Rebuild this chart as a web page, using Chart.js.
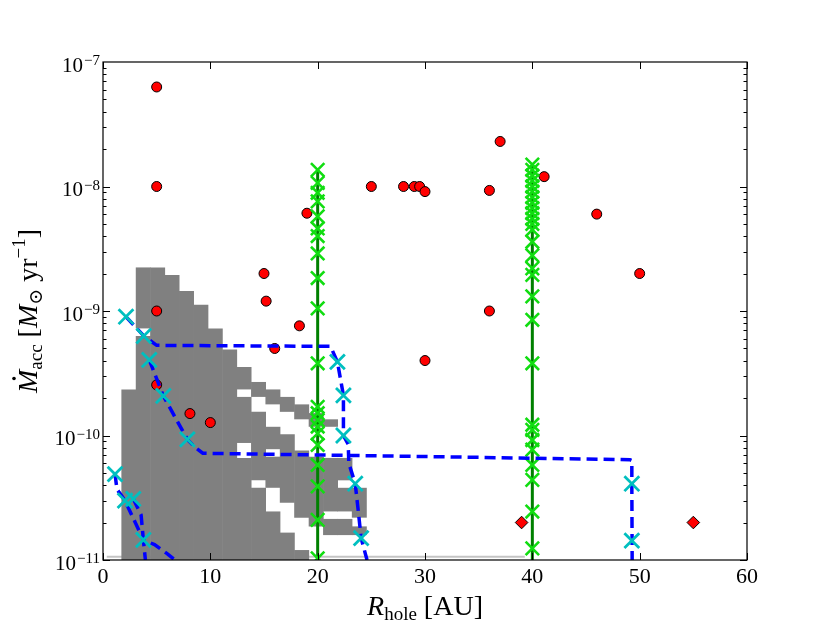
<!DOCTYPE html>
<html>
<head>
<meta charset="utf-8">
<script src="https://cdn.jsdelivr.net/npm/chart.js@4.4.1/dist/chart.umd.min.js"></script>
<style>
  html, body { margin: 0; padding: 0; background: #fff; }
</style>
</head>
<body>
<canvas id="chart" width="830" height="623" style="width:830px;height:623px"></canvas>
<script>
// observed transition discs: hole radius [AU] and accretion rate [Msun/yr]
var obsR    = [5, 5, 5, 5, 8.1, 10, 15, 15.2, 16, 18.3, 19, 25, 28, 29, 29.5, 30, 30, 36, 36, 37, 41.1, 46, 50];
var obsMdot = [6.3e-8, 1e-8, 1e-9, 2.55e-10, 1.5e-10, 1.27e-10, 2e-9, 1.2e-9, 5e-10, 7.6e-10, 6.1e-9,
               1e-8, 1e-8, 1e-8, 1e-8, 9.1e-9, 4e-10, 9.3e-9, 1e-9, 2.3e-8, 1.2e-8, 6e-9, 2e-9];

// upper limits (diamonds)
var limR    = [39, 55];
var limMdot = [2e-11, 2e-11];

// gray region: column centres [AU] and log10(Mdot) spans filled in each column
var cellR = [2.41, 3.75, 5.09, 6.43, 7.78, 9.12, 10.46, 11.80, 13.14, 14.49, 15.83, 17.17, 18.51, 19.86, 21.20, 22.54, 23.88];
var cellSpans = [
  [[-11, -9.63]],
  [[-11, -9.20], [-9.14, -8.65]],
  [[-11, -8.65]],
  [[-11, -8.71]],
  [[-11, -8.84]],
  [[-11, -8.95]],
  [[-11, -9.14]],
  [[-11, -9.31]],
  [[-11, -10.18], [-10.06, -9.69], [-9.63, -9.45]],
  [[-11, -10.42], [-10.36, -9.81], [-9.69, -9.57]],
  [[-11, -10.61], [-10.42, -10.17], [-10.11, -9.93], [-9.75, -9.63]],
  [[-11, -10.78], [-10.54, -9.99], [-9.81, -9.69]],
  [[-11, -10.92], [-10.66, -10.12], [-9.87, -9.75]],
  [[-10.73, -10.17], [-9.93, -9.82]],
  [[-10.80, -10.67], [-10.61, -10.18], [-9.93, -9.87]],
  [[-10.80, -10.67], [-10.61, -10.42], [-10.36, -10.18]],
  [[-10.80, -10.73], [-10.66, -10.42]]
];
var baseR    = [0.35, 39.3];
var baseMdot = [1.06e-11, 1.06e-11];

// photoevaporation tracks (blue dashed)
var trackAR    = [2.14, 3.8, 5.0, 21.2, 21.84, 22.4, 22.4, 22.85, 22.9, 23.5, 23.8, 24.05, 24.6];
var trackAMdot = [9.0e-10, 6.3e-10, 5.3e-10, 5.2e-10, 3.9e-10, 2.1e-10, 1.0e-10, 8.5e-11, 6.0e-11, 4.1e-11, 2.4e-11, 1.5e-11, 1.0e-11];
var trackBR    = [4.31, 5.62, 7.86, 8.6, 9.3, 49.1, 49.27, 49.27, 49.3];
var trackBMdot = [4.05e-10, 2.08e-10, 9.3e-11, 8.0e-11, 7.2e-11, 6.4e-11, 6.3e-11, 4.1e-11, 1.0e-11];
var trackCR    = [1.12, 1.3, 2.05, 3.76, 3.95];
var trackCMdot = [4.9e-11, 3.7e-11, 3.0e-11, 1.45e-11, 1.0e-11];
var trackDR    = [2.82, 3.55, 3.76, 4.8, 6.0, 6.7];
var trackDMdot = [3.1e-11, 2.3e-11, 1.45e-11, 1.33e-11, 1.12e-11, 1.0e-11];

// time markers on the tracks (cyan crosses)
var markR    = [2.14, 3.8, 21.84, 22.4, 22.4, 23.5, 24.05, 4.31, 5.62, 7.86, 49.27, 49.27, 1.12, 2.05, 2.82, 3.76];
var markMdot = [9.0e-10, 6.3e-10, 3.9e-10, 2.1e-10, 1.0e-10, 4.1e-11, 1.5e-11, 4.05e-10, 2.08e-10, 9.3e-11,
                4.1e-11, 1.43e-11, 4.9e-11, 3.0e-11, 3.1e-11, 1.45e-11];

// planet tracks at fixed hole radius (green)
var planet20Mdot = [1.36e-8, 1.07e-8, 8.9e-9, 7.6e-9, 5.75e-9, 4.6e-9, 4.0e-9, 2.9e-9, 1.84e-9, 1.05e-9, 3.8e-10,
                    1.7e-10, 1.51e-10, 1.33e-10, 1.18e-10, 1.04e-10, 8.4e-11, 5.8e-11, 3.9e-11, 2.1e-11, 1.03e-11];
var planet40Mdot = [1.5e-8, 1.36e-8, 1.22e-8, 1.11e-8, 1.0e-8, 9.1e-9, 8.2e-9, 7.4e-9, 6.7e-9, 6.1e-9, 5.5e-9,
                    5.0e-9, 4.5e-9, 3.6e-9, 2.8e-9, 2.2e-9, 1.95e-9, 1.31e-9, 8.5e-10, 3.8e-10, 1.22e-10,
                    1.11e-10, 9.2e-11, 7.7e-11, 5.8e-11, 4.4e-11, 2.45e-11, 1.24e-11];

// axes
var xTicks = [0, 10, 20, 30, 40, 50, 60];
var xTickLabels = ['0', '10', '20', '30', '40', '50', '60'];
var yDecades = [-11, -10, -9, -8, -7];
var yTickExps = ['\u221211', '\u221210', '\u22129', '\u22128', '\u22127'];

var SERIF = "'Liberation Serif', 'DejaVu Serif', serif";

function pairs(xs, ys) {
  return xs.map(function (x, i) { return { x: x, y: ys[i] }; });
}
function column(x, ys) {
  return ys.map(function (y) { return { x: x, y: y }; });
}
function grayLayer(j) {
  var pts = [];
  for (var i = 0; i < cellR.length; i++) {
    var s = cellSpans[i][j];
    if (s) pts.push({ x: cellR[i], y: [Math.pow(10, s[0]), Math.pow(10, s[1])] });
  }
  return pts;
}

var datasets = [];

// gray region, one bar layer per span index
for (var j = 0; j < 4; j++) {
  datasets.push({
    type: 'bar',
    data: grayLayer(j),
    backgroundColor: '#808080',
    borderWidth: 0,
    grouped: false,
    barPercentage: 1.04,
    categoryPercentage: 1,
    order: 5
  });
}
datasets.push({
  type: 'scatter', showLine: true, data: pairs(baseR, baseMdot),
  borderColor: '#c4c4c4', borderWidth: 2, pointRadius: 0, order: 6
});

// observations
datasets.push({
  type: 'scatter', data: pairs(obsR, obsMdot),
  pointStyle: 'circle', pointRadius: 5, backgroundColor: '#ff0000',
  borderColor: '#000', borderWidth: 1, order: 4
});
datasets.push({
  type: 'scatter', data: pairs(limR, limMdot),
  pointStyle: 'rectRot', pointRadius: 6.3, backgroundColor: '#ff0000',
  borderColor: '#000', borderWidth: 1, order: 4
});

// planet tracks
[[20, planet20Mdot], [40, planet40Mdot]].forEach(function (p) {
  datasets.push({
    type: 'scatter', showLine: true,
    data: [{ x: p[0], y: 1e-11 }, { x: p[0], y: p[1][0] }],
    borderColor: '#008000', borderWidth: 3, pointRadius: 0, order: 3
  });
  datasets.push({
    type: 'scatter', data: column(p[0], p[1]),
    pointStyle: 'crossRot', pointRadius: 9.5, borderColor: '#11dd11',
    borderWidth: 2.6, order: 2
  });
});

// photoevaporation tracks
[[trackAR, trackAMdot], [trackBR, trackBMdot], [trackCR, trackCMdot], [trackDR, trackDMdot]].forEach(function (t) {
  datasets.push({
    type: 'scatter', showLine: true, data: pairs(t[0], t[1]),
    borderColor: '#0000ff', borderWidth: 3.5, borderDash: [11, 6],
    pointRadius: 0, tension: 0, order: 1
  });
});
datasets.push({
  type: 'scatter', data: pairs(markR, markMdot),
  pointStyle: 'crossRot', pointRadius: 10.5, borderColor: '#00bfbf',
  borderWidth: 2.8, order: 0
});

datasets.forEach(function (d) { d.clip = 0; });

function drawPieces(ctx, pieces) {
  var total = 0;
  pieces.forEach(function (p) {
    ctx.font = p.font;
    p.w = ctx.measureText(p.text).width;
    total += p.w;
  });
  var x = -total / 2;
  pieces.forEach(function (p) {
    ctx.font = p.font;
    ctx.fillText(p.text, x, p.dy);
    p.x = x;
    x += p.w;
  });
  return pieces;
}

var axesPlugin = {
  id: 'axesPlugin',
  afterDraw: function (chart) {
    var ctx = chart.ctx, a = chart.chartArea;
    var xs = chart.scales.x, ys = chart.scales.y;
    ctx.save();

    // frame and inward ticks
    ctx.strokeStyle = '#000';
    ctx.lineWidth = 1;
    ctx.beginPath();
    xTicks.forEach(function (v) {
      var px = Math.round(xs.getPixelForValue(v)) + 0.5;
      ctx.moveTo(px, a.bottom); ctx.lineTo(px, a.bottom - 7);
      ctx.moveTo(px, a.top); ctx.lineTo(px, a.top + 7);
    });
    for (var d = -11; d < -7; d++) {
      for (var m = 1; m < 10; m++) {
        var py = Math.round(ys.getPixelForValue(m * Math.pow(10, d))) + 0.5;
        var len = m === 1 ? 7 : 3.5;
        ctx.moveTo(a.left, py); ctx.lineTo(a.left + len, py);
        ctx.moveTo(a.right, py); ctx.lineTo(a.right - len, py);
      }
    }
    ctx.stroke();
    ctx.lineWidth = 1.2;
    ctx.strokeRect(a.left, a.top, a.right - a.left, a.bottom - a.top);

    // tick labels
    ctx.fillStyle = '#000';
    ctx.textBaseline = 'alphabetic';
    ctx.textAlign = 'center';
    ctx.font = '22px ' + SERIF;
    xTicks.forEach(function (v, i) {
      ctx.fillText(xTickLabels[i], xs.getPixelForValue(v), 583);
    });
    ctx.textAlign = 'right';
    yDecades.forEach(function (e, i) {
      var py = ys.getPixelForValue(Math.pow(10, e));
      ctx.font = '15px ' + SERIF;
      var w = ctx.measureText(yTickExps[i]).width;
      ctx.fillText(yTickExps[i], a.left - 3, py + 3);
      ctx.font = '21px ' + SERIF;
      ctx.fillText('10', a.left - 4 - w, py + 9.5);
    });

    // axis titles
    ctx.textAlign = 'left';
    var big = '28px ' + SERIF, ital = 'italic 28px ' + SERIF, small = '19px ' + SERIF;
    ctx.save();
    ctx.translate((a.left + a.right) / 2, 615);
    drawPieces(ctx, [
      { text: 'R', font: ital, dy: 0 },
      { text: 'hole', font: small, dy: 5 },
      { text: ' [AU]', font: big, dy: 0 }
    ]);
    ctx.restore();

    ctx.save();
    ctx.translate(37, (a.top + a.bottom) / 2);
    ctx.rotate(-Math.PI / 2);
    var p = drawPieces(ctx, [
      { text: 'M', font: ital, dy: 0 },
      { text: 'acc', font: small, dy: 5 },
      { text: ' [', font: big, dy: 0 },
      { text: 'M', font: ital, dy: 0 },
      { text: '\u2299', font: small, dy: 5 },
      { text: ' yr', font: big, dy: 0 },
      { text: '\u22121', font: small, dy: -12 },
      { text: ']', font: big, dy: 0 }
    ]);
    ctx.beginPath();
    ctx.arc(p[0].x + p[0].w * 0.62, -23, 1.8, 0, 2 * Math.PI);
    ctx.fill();
    ctx.restore();

    ctx.restore();
  }
};

new Chart(document.getElementById('chart'), {
  type: 'scatter',
  data: { datasets: datasets },
  options: {
    responsive: false,
    devicePixelRatio: 1,
    animation: false,
    layout: { padding: { left: 0, right: 83, top: 62, bottom: 0 } },
    plugins: { legend: { display: false }, tooltip: { enabled: false } },
    scales: {
      x: {
        type: 'linear', min: 0, max: 60, offset: false,
        ticks: { display: false, stepSize: 10 },
        grid: { display: false, offset: false },
        border: { display: false },
        afterFit: function (s) { s.height = 63; }
      },
      y: {
        type: 'logarithmic', min: 1e-11, max: 1e-7,
        ticks: { display: false },
        grid: { display: false },
        border: { display: false },
        afterFit: function (s) { s.width = 103; }
      }
    }
  },
  plugins: [axesPlugin]
});
</script>
</body>
</html>
